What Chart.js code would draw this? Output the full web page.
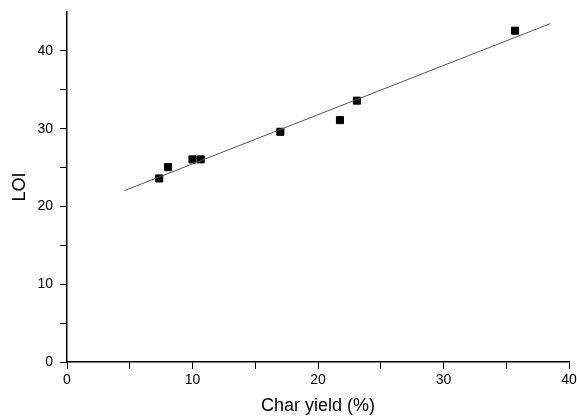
<!DOCTYPE html>
<html>
<head>
<meta charset="utf-8">
<script src="https://cdn.jsdelivr.net/npm/chart.js@4"></script>
<style>
  body { margin: 0; background: #fff; }
  #wrap { width: 577px; height: 417px; }
</style>
</head>
<body>
<div id="wrap"><canvas id="loiChart"></canvas></div>
<script>
// measured points
var charYield = [7.35, 8.05, 10.0, 10.65, 17.0, 21.75, 23.1, 35.7];
var loi = [23.6, 25.05, 26.05, 26.05, 29.6, 31.1, 33.6, 42.6];

// linear fit line, ends
var fitX = [4.6, 38.5];
var fitY = [22.05, 43.5];

var xTicks = [0, 10, 20, 30, 40];
var yTicks = [0, 10, 20, 30, 40];

var points = charYield.map(function (x, i) { return { x: x, y: loi[i] }; });
var fitLine = fitX.map(function (x, i) { return { x: x, y: fitY[i] }; });

Chart.defaults.font.family = "'Liberation Sans', Arial, sans-serif";
Chart.defaults.color = "#000";

var data = {
  datasets: [
    {
      type: "line",
      data: fitLine,
      borderColor: "#555",
      borderWidth: 1,
      pointRadius: 0,
      fill: false,
    },
    {
      type: "scatter",
      data: points,
      pointStyle: "rect",
      pointRadius: 5,
      backgroundColor: "#000",
      borderColor: "#000",
    },
  ],
};

function tickLabel(list) {
  return function (value) {
    return list.indexOf(value) >= 0 ? value : "";
  };
}

var options = {
  responsive: true,
  maintainAspectRatio: false,
  animation: false,
  layout: { padding: { top: 12, right: 8 } },
  plugins: { legend: { display: false }, tooltip: { enabled: false } },
  scales: {
    x: {
      type: "linear",
      min: 0,
      max: 40,
      afterFit: function (s) { s.height = 55; s.paddingRight = 0; s.paddingLeft = 0; },
      ticks: { stepSize: 5, autoSkip: false, maxRotation: 0, padding: 3, font: { size: 14 }, callback: tickLabel(xTicks) },
      grid: { drawOnChartArea: false, color: "#000", tickLength: 7 },
      border: { color: "#000", width: 1.5 },
      title: { display: true, text: "Char yield (%)", font: { size: 18 }, padding: { top: 5, bottom: 0 } },
    },
    y: {
      type: "linear",
      min: 0,
      max: 45,
      afterFit: function (s) { s.width = 67; s.paddingTop = 0; s.paddingBottom = 0; },
      ticks: { stepSize: 5, autoSkip: false, padding: 7, font: { size: 14 }, callback: tickLabel(yTicks) },
      grid: {
        drawOnChartArea: false,
        tickLength: 7,
        tickColor: function (ctx) { return ctx.tick && ctx.tick.value === 45 ? "rgba(0,0,0,0)" : "#000"; },
      },
      border: { color: "#000", width: 1.5 },
      title: { display: true, text: "LOI", font: { size: 18 }, padding: { top: 9, bottom: 0 } },
    },
  },
};

var loiChart = new Chart(document.getElementById("loiChart"), {
  type: "scatter",
  data: data,
  options: options,
});
</script>
</body>
</html>
